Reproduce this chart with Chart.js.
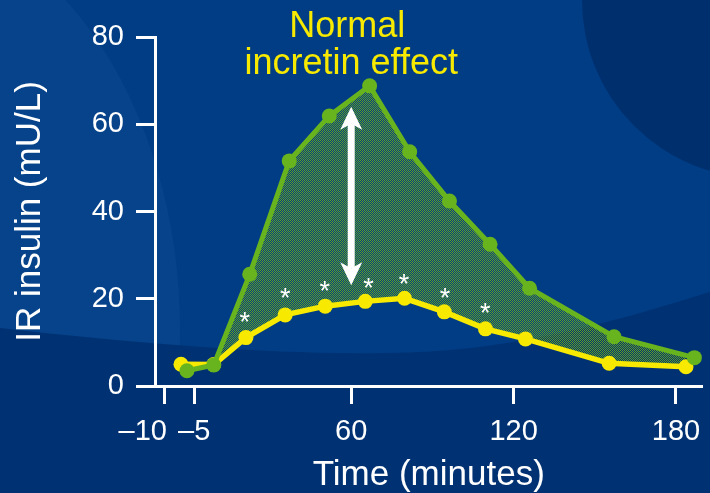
<!DOCTYPE html>
<html>
<head>
<meta charset="utf-8">
<script src="https://cdn.jsdelivr.net/npm/chart.js@4.4.1/dist/chart.umd.min.js"></script>
<style>
  html, body { margin: 0; padding: 0; background: #013d85; }
  #wrap { width: 710px; height: 493px; }
</style>
</head>
<body>
<div id="wrap"><canvas id="chart" width="710" height="493"></canvas></div>
<script>
// Positions on the drawn time axis (the axis has a break between -5 and 60 min)
const tickPositions = [-9, 2, 60, 120, 180];
const tickLabels = ['\u201310', '\u20135', '60', '120', '180'];
const yTicks = [0, 20, 40, 60, 80];

// Oral glucose load (green) – immunoreactive insulin
const oralTime = [-0.7, 9.2, 22.5, 37.1, 51.9, 66.8, 81.6, 96.3, 111.3, 125.9, 157.1, 186.8];
const oralInsulin = [3.5, 4.8, 25.6, 51.6, 61.9, 68.8, 53.7, 42.4, 32.5, 22.4, 11.3, 6.5];

// Isoglycaemic intravenous glucose (yellow)
const ivTime = [-2.9, 9.2, 21.1, 35.6, 50.4, 65.2, 79.7, 94.4, 109.6, 124.4, 155.3, 183.7];
const ivInsulin = [5.0, 4.9, 11.1, 16.3, 18.3, 19.4, 20.1, 17.0, 13.1, 10.8, 5.2, 4.4];

// Significance markers (*)
const sigTime = [20.7, 35.6, 50.2, 66.4, 79.5, 94.7, 109.5];
const sigLevel = [16.3, 21.6, 23.4, 23.9, 24.9, 21.8, 18.2];

// Double arrow showing the incretin effect
const arrowTime = 60;
const arrowTop = 64.0;
const arrowBottom = 23.1;
const effectLabel = ['Normal', 'incretin effect'];

const FONT = "'Liberation Sans', Arial, Helvetica, sans-serif";
const GREEN = '#68b41e';
const YELLOW = '#f7ea00';
const WHITE = '#ffffff';

// dithered green fill between the two curves
function ditherPattern() {
  const p = document.createElement('canvas');
  p.width = 2; p.height = 2;
  const g = p.getContext('2d');
  g.fillStyle = 'rgb(96,160,34)';
  g.fillRect(0, 0, 1, 1);
  g.fillRect(1, 1, 1, 1);
  return document.getElementById('chart').getContext('2d').createPattern(p, 'repeat');
}

const backdrop = {
  id: 'backdrop',
  beforeDraw(chart) {
    const c = chart.ctx, w = chart.width, h = chart.height;
    c.save();
    c.fillStyle = '#013d85';
    c.fillRect(0, 0, w, h);
    // lighter sweep, upper left
    c.fillStyle = 'rgba(40,100,170,0.16)';
    c.beginPath();
    c.ellipse(-120, 330, 300, 420, 0, 0, Math.PI * 2);
    c.fill();
    // darker band along the bottom
    c.fillStyle = '#003273';
    c.beginPath();
    c.moveTo(0, 328);
    c.bezierCurveTo(150, 345, 330, 360, 450, 350);
    c.bezierCurveTo(560, 340, 650, 310, 710, 292);
    c.lineTo(710, h);
    c.lineTo(0, h);
    c.closePath();
    c.fill();
    // darker disc, top right
    c.fillStyle = '#002f6d';
    c.beginPath();
    c.arc(760, 0, 178, 0, Math.PI * 2);
    c.fill();
    c.restore();
  }
};

const overlay = {
  id: 'overlay',
  afterDatasetsDraw(chart) {
    const c = chart.ctx;
    const xs = chart.scales.x, ys = chart.scales.y;
    c.save();
    // double-headed arrow
    const ax = xs.getPixelForValue(arrowTime);
    const yt = ys.getPixelForValue(arrowTop);
    const yb = ys.getPixelForValue(arrowBottom);
    const hw = 11, hl = 23, notch = 17, sw = 3.5;
    c.fillStyle = WHITE;
    c.fillRect(ax - sw, yt + notch, sw * 2, (yb - notch) - (yt + notch));
    c.beginPath();
    c.moveTo(ax, yt);
    c.lineTo(ax + hw, yt + hl);
    c.lineTo(ax, yt + notch);
    c.lineTo(ax - hw, yt + hl);
    c.closePath();
    c.fill();
    c.beginPath();
    c.moveTo(ax, yb);
    c.lineTo(ax + hw, yb - hl);
    c.lineTo(ax, yb - notch);
    c.lineTo(ax - hw, yb - hl);
    c.closePath();
    c.fill();

    // asterisks
    c.font = '27px ' + FONT;
    c.textAlign = 'center';
    c.textBaseline = 'alphabetic';
    c.fillStyle = WHITE;
    sigTime.forEach((t, i) => {
      const px = xs.getPixelForValue(t);
      const py = ys.getPixelForValue(sigLevel[i]);
      c.fillText('*', px, py + 0.58 * 27);
    });

    // effect label
    c.font = '36px ' + FONT;
    c.fillStyle = YELLOW;
    c.textBaseline = 'alphabetic';
    c.fillText(effectLabel[0], ax - 4, 37);
    c.fillText(effectLabel[1], ax, 74);
    c.restore();
  }
};

const pts = (xs, ys) => xs.map((x, i) => ({ x: x, y: ys[i] }));

new Chart(document.getElementById('chart'), {
  type: 'line',
  data: {
    datasets: [
      {
        label: 'Oral glucose',
        data: pts(oralTime, oralInsulin),
        borderColor: GREEN,
        backgroundColor: ditherPattern(),
        pointBackgroundColor: GREEN,
        pointBorderWidth: 0,
        pointRadius: 7.5,
        borderWidth: 5,
        tension: 0,
        fill: '+1',
        clip: false
      },
      {
        label: 'Intravenous glucose',
        data: pts(ivTime, ivInsulin),
        borderColor: YELLOW,
        backgroundColor: YELLOW,
        pointBackgroundColor: YELLOW,
        pointBorderWidth: 0,
        pointRadius: 7.5,
        borderWidth: 5.5,
        tension: 0,
        fill: false,
        clip: false
      }
    ]
  },
  options: {
    responsive: false,
    animation: false,
    events: [],
    layout: { padding: { top: 37, right: 0, bottom: 0, left: 0 } },
    plugins: {
      legend: { display: false },
      tooltip: { enabled: false },
      filler: { drawTime: 'beforeDatasetsDraw' }
    },
    scales: {
      x: {
        type: 'linear',
        min: -12.5,
        max: 189.8,
        afterBuildTicks: s => { s.ticks = tickPositions.map(v => ({ value: v })); },
        afterFit: s => { s.height = 107; s.paddingLeft = 0; s.paddingRight = 0; },
        ticks: {
          callback: v => {
            const i = tickPositions.indexOf(v);
            // the first label sits left of its tick to clear its neighbour
            return i === 0 ? tickLabels[i] + '\u2003\u2002' : tickLabels[i];
          },
          color: WHITE,
          font: { family: FONT, size: 29 },
          padding: 11,
          autoSkip: false,
          maxRotation: 0
        },
        grid: { drawOnChartArea: false, drawTicks: true, tickLength: 18, tickWidth: 3, color: WHITE },
        border: { display: true, color: WHITE, width: 3 },
        title: {
          display: true,
          text: 'Time (minutes)',
          color: WHITE,
          font: { family: FONT, size: 35, lineHeight: 1 },
          padding: { top: 0, bottom: 0 }
        }
      },
      y: {
        min: 0,
        max: 80,
        afterBuildTicks: s => { s.ticks = yTicks.map(v => ({ value: v })); },
        afterFit: s => { s.width = 155; s.paddingTop = 0; s.paddingBottom = 0; },
        ticks: {
          color: WHITE,
          font: { family: FONT, size: 29 },
          padding: 12
        },
        grid: { drawOnChartArea: false, drawTicks: true, tickLength: 19, tickWidth: 3, color: WHITE },
        border: { display: true, color: WHITE, width: 3 },
        title: {
          display: true,
          text: 'IR insulin (mU/L)',
          color: WHITE,
          font: { family: FONT, size: 35, lineHeight: 1 },
          padding: { top: 13, bottom: 0 }
        }
      }
    }
  },
  plugins: [backdrop, overlay]
});
</script>
</body>
</html>
